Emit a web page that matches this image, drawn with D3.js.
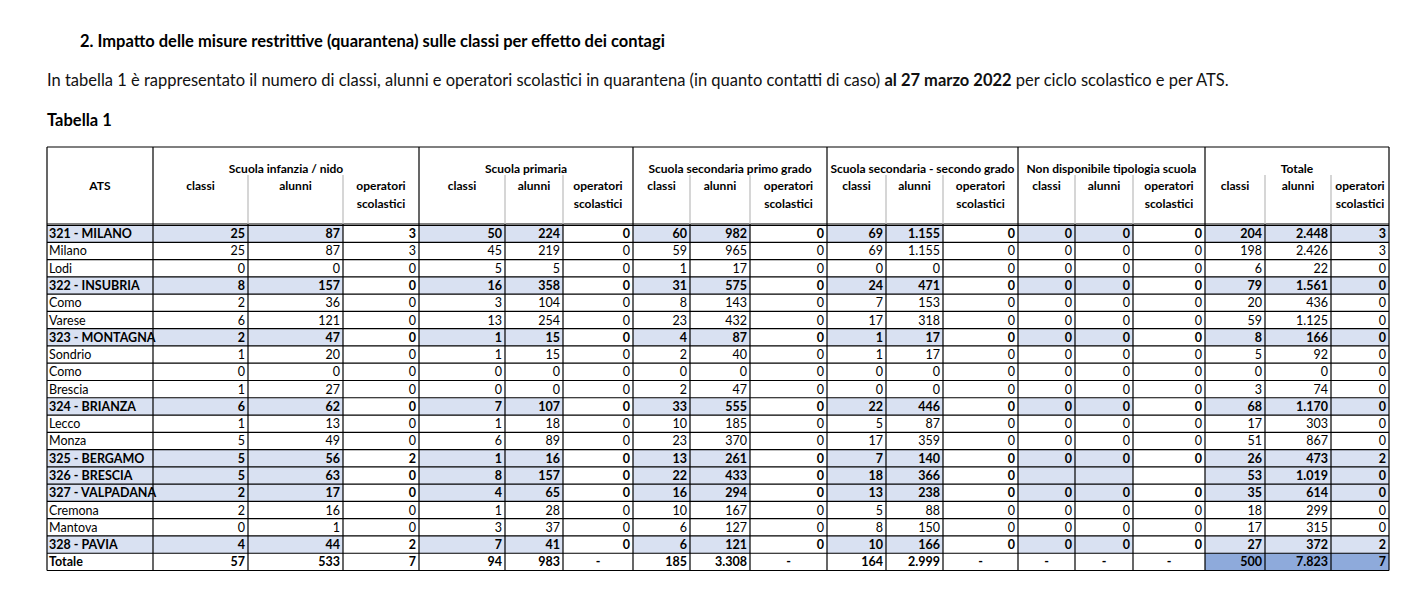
<!DOCTYPE html>
<html><head><meta charset="utf-8">
<script src="https://cdn.jsdelivr.net/npm/d3@7"></script>
<style>body{margin:0;background:#fff;}</style></head>
<body><svg id="c" width="1422" height="590"></svg>
<script>
const groups = ["Scuola infanzia / nido","Scuola primaria","Scuola secondaria primo grado","Scuola secondaria - secondo grado","Non disponibile tipologia scuola","Totale"];
const subcols = ["classi","alunni","operatori scolastici"];
const atsNames = ["321 - MILANO","Milano","Lodi","322 - INSUBRIA","Como","Varese","323 - MONTAGNA","Sondrio","Como","Brescia","324 - BRIANZA","Lecco","Monza","325 - BERGAMO","326 - BRESCIA","327 - VALPADANA","Cremona","Mantova","328 - PAVIA","Totale"];
const isGroup = [1,0,0,1,0,0,1,0,0,0,1,0,0,1,1,1,0,0,1,0];
const rows = [
["25","87","3","50","224","0","60","982","0","69","1.155","0","0","0","0","204","2.448","3"],
["25","87","3","45","219","0","59","965","0","69","1.155","0","0","0","0","198","2.426","3"],
["0","0","0","5","5","0","1","17","0","0","0","0","0","0","0","6","22","0"],
["8","157","0","16","358","0","31","575","0","24","471","0","0","0","0","79","1.561","0"],
["2","36","0","3","104","0","8","143","0","7","153","0","0","0","0","20","436","0"],
["6","121","0","13","254","0","23","432","0","17","318","0","0","0","0","59","1.125","0"],
["2","47","0","1","15","0","4","87","0","1","17","0","0","0","0","8","166","0"],
["1","20","0","1","15","0","2","40","0","1","17","0","0","0","0","5","92","0"],
["0","0","0","0","0","0","0","0","0","0","0","0","0","0","0","0","0","0"],
["1","27","0","0","0","0","2","47","0","0","0","0","0","0","0","3","74","0"],
["6","62","0","7","107","0","33","555","0","22","446","0","0","0","0","68","1.170","0"],
["1","13","0","1","18","0","10","185","0","5","87","0","0","0","0","17","303","0"],
["5","49","0","6","89","0","23","370","0","17","359","0","0","0","0","51","867","0"],
["5","56","2","1","16","0","13","261","0","7","140","0","0","0","0","26","473","2"],
["5","63","0","8","157","0","22","433","0","18","366","0","","","","53","1.019","0"],
["2","17","0","4","65","0","16","294","0","13","238","0","0","0","0","35","614","0"],
["2","16","0","1","28","0","10","167","0","5","88","0","0","0","0","18","299","0"],
["0","1","0","3","37","0","6","127","0","8","150","0","0","0","0","17","315","0"],
["4","44","2","7","41","0","6","121","0","10","166","0","0","0","0","27","372","2"],
["57","533","7","94","983","-","185","3.308","-","164","2.999","-","-","-","-","500","7.823","7"]
];
const colEdges = [47,153,248,343,419,505,563,633,690,750,827,886,943,1018,1075,1133,1205,1265,1331,1389];

const svg = d3.select("#c");
const F = "Lato, 'Open Sans', sans-serif";
svg.append("text").attr("x",80).attr("y",47).attr("font-family",F).attr("font-size",16.5).attr("font-weight","bold")
  .text("2.    Impatto delle misure restrittive (quarantena) sulle classi per effetto dei contagi");
const p = svg.append("text").attr("x",47).attr("y",86).attr("font-family",F).attr("font-size",16.5).attr("fill","#111");
p.append("tspan").text("In tabella 1 è rappresentato il numero di classi, alunni e operatori scolastici in quarantena (in quanto contatti di caso) ");
p.append("tspan").attr("font-weight","bold").text("al 27 marzo 2022");
p.append("tspan").text(" per ciclo scolastico e per ATS.");
svg.append("text").attr("x",47).attr("y",126).attr("font-family",F).attr("font-size",16.5).attr("font-weight","bold").text("Tabella 1");

const y = d3.scaleBand().domain(d3.range(rows.length)).range([225,570.5]);
const cx = i => colEdges[i], cw = i => colEdges[i+1]-colEdges[i];
const topY = 147, gTop=175, hBot=224;
const g = svg.append("g").attr("font-family",F).attr("font-size",12.5);

rows.forEach((r,ri)=>{
  const last = ri===rows.length-1;
  for(let c=0;c<19;c++){
    let fill = null;
    if(isGroup[ri]){
      const sub = c===0?-1:(c-1)%3;
      if(c===0 || sub<2 || c>=16) fill="#d9e1f2";
    }
    if(last && c>=16) fill="#8eaadb";
    if(fill) g.append("rect").attr("x",cx(c)).attr("y",y(ri)).attr("width",cw(c)).attr("height",y.bandwidth()).attr("fill",fill);
  }
});
rows.forEach((r,ri)=>{
  g.append("line").attr("x1",47).attr("x2",1389).attr("y1",y(ri)+y.bandwidth()).attr("y2",y(ri)+y.bandwidth()).attr("stroke","#000").attr("stroke-width",1.2);
});
[topY,hBot,225.5].forEach(yy=>g.append("line").attr("x1",47).attr("x2",1389).attr("y1",yy).attr("y2",yy).attr("stroke","#000").attr("stroke-width",1.2));
colEdges.forEach((x,i)=>{
  const major = i===0||i===1||(i-1)%3===0;
  g.append("line").attr("x1",x).attr("x2",x).attr("y1",major?topY:gTop).attr("y2",hBot).attr("stroke",major?"#000":"#bbb").attr("stroke-width",1.2);
  g.append("line").attr("x1",x).attr("x2",x).attr("y1",hBot).attr("y2",570.5).attr("stroke","#000").attr("stroke-width",1.2);
});
g.append("text").attr("x",(cx(0)+cx(1))/2).attr("y",190).attr("text-anchor","middle").attr("font-weight","bold").attr("font-size",12).text("ATS");
groups.forEach((gn,gi)=>{
  const x0=cx(1+gi*3), x1=cx(4+gi*3);
  g.append("text").attr("x",(x0+x1)/2).attr("y",173).attr("text-anchor","middle").attr("font-weight","bold").attr("font-size",12).text(gn);
  subcols.forEach((s,si)=>{
    const c=1+gi*3+si, xm=cx(c)+cw(c)/2;
    if(si<2) g.append("text").attr("x",xm).attr("y",190).attr("text-anchor","middle").attr("font-weight","bold").attr("font-size",12).text(s);
    else { const w=s.split(" ");
      g.append("text").attr("x",xm).attr("y",190).attr("text-anchor","middle").attr("font-weight","bold").attr("font-size",12).text(w[0]);
      g.append("text").attr("x",xm).attr("y",208).attr("text-anchor","middle").attr("font-weight","bold").attr("font-size",12).text(w[1]);
    }
  });
});
rows.forEach((r,ri)=>{
  const last = ri===rows.length-1;
  const bold = isGroup[ri]||last;
  const ty = y(ri)+y.bandwidth()/2+4.5;
  g.append("text").attr("x",cx(0)+2).attr("y",ty).attr("font-weight",bold?"bold":"normal").text(atsNames[ri]);
  r.forEach((v,c)=>{
    const col=c+1;
    const t=g.append("text").attr("y",ty).attr("font-weight",bold?"bold":"normal").text(v);
    if(last && v==="-") t.attr("x",cx(col)+cw(col)/2).attr("text-anchor","middle");
    else t.attr("x",cx(col+1)-3).attr("text-anchor","end");
  });
});
</script></body></html>
